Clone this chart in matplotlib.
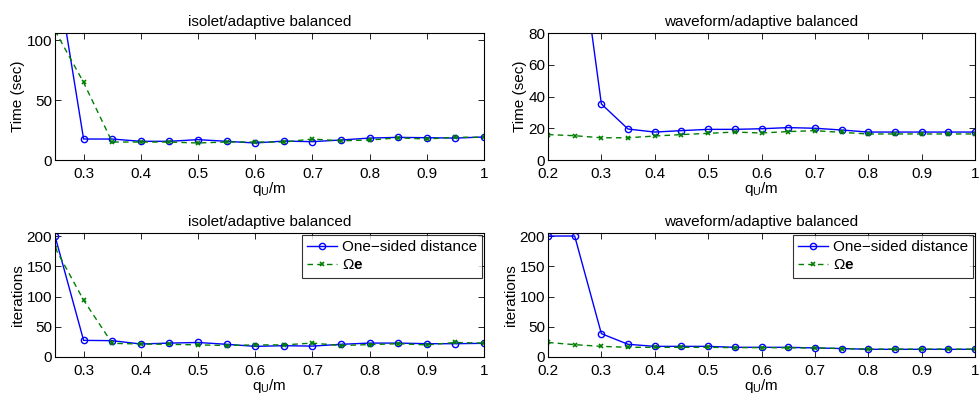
import numpy as np
import matplotlib
matplotlib.use("Agg")
import matplotlib.pyplot as plt

plt.rcParams['font.family'] = ['Liberation Sans', 'DejaVu Sans']
plt.rcParams['mathtext.fontset'] = 'custom'
plt.rcParams['mathtext.rm'] = 'Liberation Sans'
plt.rcParams['mathtext.bf'] = 'Liberation Sans:bold'
plt.rcParams['mathtext.it'] = 'Liberation Sans:italic'

x_isolet = [0.25, 0.30, 0.35, 0.40, 0.45, 0.50, 0.55, 0.60, 0.65, 0.70, 0.75, 0.80, 0.85, 0.90, 0.95, 1.00]
x_wave = [0.20, 0.25, 0.30, 0.35, 0.40, 0.45, 0.50, 0.55, 0.60, 0.65, 0.70, 0.75, 0.80, 0.85, 0.90, 0.95, 1.00]

isolet_time_one = [165, 17.5, 17.5, 15.6, 15.6, 17.0, 15.6, 14.2, 15.8, 15.3, 16.7, 18.3, 18.9, 18.6, 18.3, 19.2]
isolet_time_omega = [108, 64.7, 15.0, 15.0, 15.0, 14.2, 15.0, 15.0, 15.0, 17.5, 16.0, 16.7, 18.5, 17.5, 19.0, 19.0]

wave_time_one = [160, 160, 35.3, 19.5, 17.6, 18.5, 19.3, 19.3, 19.7, 20.4, 20.0, 18.9, 17.6, 17.6, 17.6, 17.6, 17.6]
wave_time_omega = [16.0, 15.3, 14.0, 14.0, 15.1, 16.0, 16.8, 17.6, 17.0, 17.9, 18.5, 17.4, 16.4, 16.4, 16.4, 16.4, 16.4]

isolet_iter_one = [200, 27.5, 27.0, 21.5, 23.0, 24.0, 21.0, 17.6, 18.7, 18.0, 21.0, 23.0, 23.0, 22.0, 22.0, 22.6]
isolet_iter_omega = [180.7, 94, 22.6, 21.5, 21.0, 20.0, 19.0, 20.0, 20.0, 23.0, 19.0, 20.5, 22.0, 20.0, 24.0, 23.0]

wave_iter_one = [200, 200, 38.6, 21.0, 17.6, 17.6, 17.6, 16.0, 16.0, 16.0, 15.0, 14.0, 12.7, 12.7, 12.7, 12.7, 12.7]
wave_iter_omega = [24.0, 20.4, 17.6, 16.0, 16.0, 16.0, 16.0, 15.5, 15.5, 15.2, 15.0, 14.0, 13.0, 13.0, 13.0, 13.0, 13.0]

titles = ["isolet/adaptive balanced", "waveform/adaptive balanced"]
legend_labels = ["One\u2212sided distance", r"$\Omega\mathbf{e}$"]

fig = plt.figure(figsize=(9.8, 4.01), dpi=100)

W = 980.0
H = 401.0
def rect(l, r, t, b):
    return [l / W, 1 - b / H, (r - l) / W, (b - t) / H]

ax_tl = fig.add_axes(rect(55, 484, 33, 160))
ax_tr = fig.add_axes(rect(548, 975, 33, 160))
ax_bl = fig.add_axes(rect(55, 484, 233, 357))
ax_br = fig.add_axes(rect(548, 975, 233, 357))

blue = (0, 0, 1)
green = (0, 0.5, 0)
FS = 11

def draw(ax, x, y1, y2, title, ylabel, xlim, ylim, yticks, legend):
    ax.plot(x, y1, '-', color=blue, marker='o', markersize=4.5, markerfacecolor='none',
            markeredgewidth=1.0, linewidth=1.0, label=legend_labels[0])
    ax.plot(x, y2, '--', color=green, marker='x', markersize=3.5, markeredgewidth=1.2,
            linewidth=1.0, label=legend_labels[1], dashes=(4, 3))
    ax.set_xlim(*xlim)
    ax.set_ylim(*ylim)
    ax.set_yticks(yticks)
    xt = [t for t in [0.2, 0.3, 0.4, 0.5, 0.6, 0.7, 0.8, 0.9, 1.0] if t >= xlim[0] - 1e-9]
    ax.set_xticks(xt)
    ax.set_xticklabels(["1" if abs(t - 1) < 1e-9 else f"{t:.1f}" for t in xt])
    ax.tick_params(direction='in', top=True, right=True, labelsize=FS, length=4, width=0.6, pad=2)
    ax.tick_params(axis='x', pad=5)
    for s in ax.spines.values():
        s.set_linewidth(0.8)
    ax.set_title(title, fontsize=FS, pad=5)
    ax.set_ylabel(ylabel, fontsize=FS, labelpad=1)
    ax.set_xlabel(r"q$_\mathrm{U}$/m", fontsize=FS, labelpad=-1)
    if legend:
        leg = ax.legend(loc='upper right', fontsize=FS, frameon=True, fancybox=False,
                        edgecolor='black', borderaxespad=0.1, handlelength=2.0,
                        handletextpad=0.3, borderpad=0.35, labelspacing=0.3)
        leg.get_frame().set_linewidth(0.8)

draw(ax_tl, x_isolet, isolet_time_one, isolet_time_omega, titles[0], "Time (sec)",
     (0.25, 1.0), (0, 106), [0, 50, 100], False)
draw(ax_tr, x_wave, wave_time_one, wave_time_omega, titles[1], "Time (sec)",
     (0.2, 1.0), (0, 80), [0, 20, 40, 60, 80], False)
draw(ax_bl, x_isolet, isolet_iter_one, isolet_iter_omega, titles[0], "iterations",
     (0.25, 1.0), (0, 205), [0, 50, 100, 150, 200], True)
draw(ax_br, x_wave, wave_iter_one, wave_iter_omega, titles[1], "iterations",
     (0.2, 1.0), (0, 205), [0, 50, 100, 150, 200], True)

fig.savefig("out.png", dpi=100)
